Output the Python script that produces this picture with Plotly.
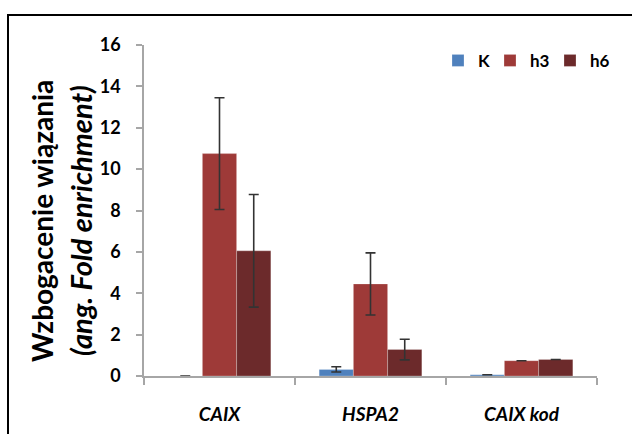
import plotly.graph_objects as go

categories = ["CAIX", "HSPA2", "CAIX kod"]
series_names = ["K", "h3", "h6"]
values_K = [0.0, 0.32, 0.06]
values_h3 = [10.75, 4.45, 0.74]
values_h6 = [6.05, 1.28, 0.80]
err_K = [0.0, 0.13, 0.0]
err_h3 = [2.7, 1.5, 0.0]
err_h6 = [2.72, 0.5, 0.0]
colors = ["#4F81BD", "#9E3A38", "#6C2A2B"]
y_ticks = [0, 2, 4, 6, 8, 10, 12, 14, 16]

W, H = 632, 434
L, R, T, B = 144, 35, 45, 58

pw = W - L - R
ph = H - T - B
def px_x(p):
    return (p - L) / pw
def px_y(p):
    return (H - B - p) / ph

legend_ids = ["legend", "legend2", "legend3"]
legend_left_px = [438, 490, 550]

fig = go.Figure()
for name, vals, errs, col, lid in zip(series_names, [values_K, values_h3, values_h6],
                                      [err_K, err_h3, err_h6], colors, legend_ids):
    fig.add_trace(go.Bar(
        x=[f"<i>{c}</i>" for c in categories], y=vals, name=name, legend=lid,
        marker=dict(color=col, line=dict(color="rgba(255,255,255,0.3)", width=0.8)),
        error_y=dict(type="data", array=errs, visible=True, color="#333333",
                     thickness=1.6, width=5),
    ))

legend_style = dict(orientation="h", y=0.952, xanchor="left", yanchor="middle",
                    font=dict(size=17, family="Lato", weight="bold"),
                    itemwidth=30, bgcolor="rgba(0,0,0,0)")

fig.update_layout(
    width=W, height=H,
    margin=dict(l=L, r=R, t=T, b=B, autoexpand=False),
    paper_bgcolor="white", plot_bgcolor="white",
    barmode="group", bargap=0.32, bargroupgap=0,
    font=dict(family="Lato, 'Open Sans', sans-serif", color="#000000"),
    showlegend=True,
    xaxis=dict(range=[-0.5, 2.5], showline=True, linecolor="#A6A6A6", linewidth=1.5,
               ticks="outside", tickson="boundaries", ticklen=7,
               tickcolor="#A6A6A6", tickwidth=1.5,
               tickfont=dict(size=19, family="Lato", weight="bold"),
               ticklabelstandoff=20, showgrid=False),
    yaxis=dict(range=[0, 16], tickvals=y_ticks, showline=True, linecolor="#A6A6A6",
               linewidth=1.5, ticks="outside", ticklen=6, tickcolor="#A6A6A6",
               tickwidth=1.5, showgrid=False, zeroline=False,
               tickfont=dict(size=18, family="Lato", weight="bold"),
               ticklabelstandoff=12),
)
for lid, lx in zip(legend_ids, legend_left_px):
    fig.update_layout({lid: dict(legend_style, x=px_x(lx))})

fig.add_annotation(text="<b>Wzbogacenie wiązania</b>", textangle=-90,
                   xref="paper", yref="paper", x=px_x(42), y=px_y(221),
                   xanchor="center", yanchor="middle",
                   showarrow=False, font=dict(size=28, family="Lato"))
fig.add_annotation(text="<b><i>(ang. Fold enrichment)</i></b>", textangle=-90,
                   xref="paper", yref="paper", x=px_x(80), y=px_y(221),
                   xanchor="center", yanchor="middle",
                   showarrow=False, font=dict(size=29, family="Lato"))

fig.add_shape(type="rect", xref="paper", yref="paper",
              x0=px_x(8), x1=px_x(660), y0=px_y(15), y1=px_y(460),
              line=dict(color="black", width=2), fillcolor="rgba(0,0,0,0)", layer="above")

fig.write_html("out.html")
